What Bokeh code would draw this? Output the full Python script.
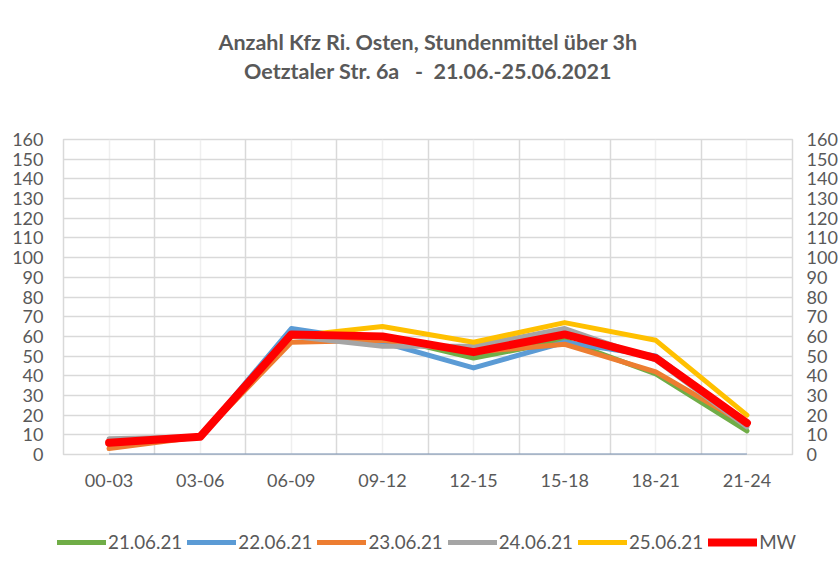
from bokeh.plotting import figure
from bokeh.models import Range1d, LinearAxis, FixedTicker, Title, Legend, LegendItem
from bokeh.embed import file_html
from bokeh.resources import INLINE

categories = ["00-03", "03-06", "06-09", "09-12", "12-15", "15-18", "18-21", "21-24"]
d21 = [5, 9, 61, 60, 49, 58, 41, 12]
d22 = [6, 9, 64, 57, 44, 57, 50, 15]
d23 = [3, 9, 57, 58, 52, 56, 42, 15]
d24 = [8, 9, 60, 55, 55, 64, 48, 14]
d25 = [6, 9, 60, 65, 57, 67, 58, 20]
mw = [6, 9, 61, 60, 52, 61, 49, 16]
zero = [0, 0, 0, 0, 0, 0, 0, 0]
series_labels = ["21.06.21", "22.06.21", "23.06.21", "24.06.21", "25.06.21", "MW"]
y_ticks = list(range(0, 161, 10))
title_1 = "Anzahl Kfz Ri. Osten, Stundenmittel über 3h"
title_2 = "Oetztaler Str. 6a\u00a0\u00a0 -\u00a0 21.06.-25.06.2021"

FONT = "Lato"
TXT = "#595959"
GRID = "#d9d9d9"

x = list(range(len(categories)))
series = [d21, d22, d23, d24, d25, mw]
colors = ["#70AD47", "#5B9BD5", "#ED7D31", "#A5A5A5", "#FFC000", "#FF0000"]
widths = [5, 5, 5, 5, 5, 8]

p = figure(width=840, height=500, output_backend="svg", toolbar_location=None, title=None,
           x_range=Range1d(-0.5, len(categories) - 0.5), y_range=Range1d(0, 160),
           min_border_left=63, min_border_right=46, min_border_top=139, min_border_bottom=46)
p.background_fill_color = "white"
p.border_fill_color = "white"
p.outline_line_color = GRID
p.outline_line_width = 1.5

xt = FixedTicker(ticks=x, minor_ticks=[i - 0.5 for i in range(len(categories) + 1)])
yt = FixedTicker(ticks=y_ticks, minor_ticks=[])
p.xaxis.ticker = xt
p.yaxis.ticker = yt
p.xgrid.ticker = xt
p.ygrid.ticker = yt
p.xgrid.grid_line_color = "#efefef"
p.xgrid.grid_line_width = 1.5
p.xgrid.minor_grid_line_color = GRID
p.xgrid.minor_grid_line_width = 1.5
p.ygrid.grid_line_color = GRID
p.ygrid.grid_line_width = 1.5

right = LinearAxis(ticker=yt)
p.add_layout(right, "right")

for ax in [p.xaxis[0], p.yaxis[0], right]:
    ax.axis_line_color = None
    ax.major_tick_line_color = None
    ax.minor_tick_line_color = None
    ax.major_tick_out = 0
    ax.major_tick_in = 0
    ax.major_label_text_font = FONT
    ax.major_label_text_font_size = "18px"
    ax.major_label_text_color = TXT
p.xaxis[0].major_label_overrides = {i: c for i, c in enumerate(categories)}
p.xaxis[0].major_label_standoff = 15
p.yaxis[0].major_label_standoff = 20
right.major_label_standoff = 14

p.line(x, zero, color="#7891b4", line_width=2)
for data, col, w in zip(series, colors, widths):
    p.line(x, data, color=col, line_width=w, line_join="round", line_cap="round")

t2 = Title(text=title_2, align="center", text_font=FONT,
           text_font_size="21.5px", text_font_style="bold", text_color=TXT, standoff=0,
           padding=dict(left=0, right=0, top=0, bottom=56))
t1 = Title(text=title_1, align="center", text_font=FONT,
           text_font_size="21.5px", text_font_style="bold", text_color=TXT, standoff=2)
p.add_layout(t2, "above")
p.add_layout(t1, "above")

# legend strip below the chart
p2 = figure(width=840, height=74, output_backend="svg", toolbar_location=None, title=None,
            x_range=p.x_range, y_range=p.y_range, x_axis_location=None, y_axis_location=None,
            min_border_left=0, min_border_right=0, min_border_top=0, min_border_bottom=0)
p2.grid.visible = False
p2.outline_line_color = None
p2.background_fill_color = "white"
p2.border_fill_color = "white"
items = []
for data, col, w, lab in zip(series, colors, widths, series_labels):
    r = p2.line(x, data, color=col, line_width=w, line_join="round", line_cap="round", visible=False)
    items.append(LegendItem(label=lab, renderers=[r]))
legend = Legend(items=items, orientation="horizontal", location=(57, 21),
                glyph_width=49, glyph_height=20, label_height=20, label_standoff=2, spacing=5,
                padding=0, margin=0, border_line_color=None, background_fill_alpha=0,
                label_text_font=FONT, label_text_font_size="18.8px", label_text_color=TXT)
p2.add_layout(legend, "center")

open("out.html", "w").write(file_html([p, p2], INLINE))
